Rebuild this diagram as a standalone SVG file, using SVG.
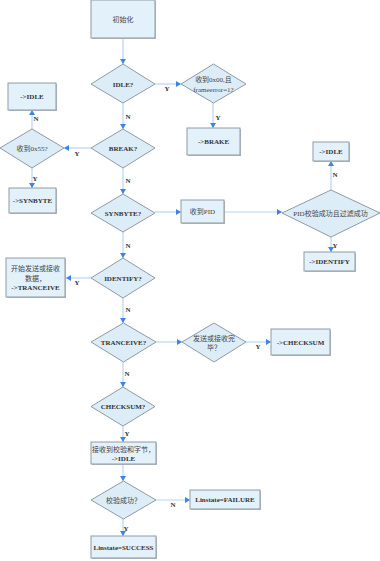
<svg xmlns="http://www.w3.org/2000/svg" width="380" height="561" viewBox="0 0 380 561">
<style>
.bx{fill:#e3f1fa;stroke:#8f9ba3;stroke-width:1}
.sh{fill:#b8bec2}
.dm{fill:#dcedf8;stroke:#8f9ba3;stroke-width:1}
.t{font-family:"Liberation Serif","Noto Sans CJK SC",serif;font-size:7px;font-weight:bold;fill:#333;text-anchor:middle}
.tc{font-family:"Liberation Serif","Noto Sans CJK SC",serif;font-size:7px;fill:#444;text-anchor:middle}
.lb{font-family:"Liberation Serif",serif;font-size:7px;font-weight:bold;fill:#333;text-anchor:middle}
.cn{fill:none;stroke:#b9d4ef;stroke-width:1.2;marker-end:url(#ah)}
</style>
<defs>
<marker id="ah" markerUnits="userSpaceOnUse" markerWidth="6" markerHeight="6" refX="5" refY="3" orient="auto">
<path d="M0,0 L5,3 L0,6 Z" fill="#3c84e6"/>
</marker>
</defs>
<rect width="380" height="561" fill="#ffffff"/>

<g id="connectors">
<path class="cn" d="M123,38 L123,64"/>
<path class="cn" d="M155,84 L181,84"/>
<path class="cn" d="M213,103 L213,128"/>
<path class="cn" d="M123,103 L123,129"/>
<path class="cn" d="M91,148 L64,148"/>
<path class="cn" d="M32,129 L32,110"/>
<path class="cn" d="M32,168 L32,188"/>
<path class="cn" d="M123,168 L123,194"/>
<path class="cn" d="M155,212 L181,212"/>
<path class="cn" d="M225,212 L282,212"/>
<path class="cn" d="M331,190 L331,161"/>
<path class="cn" d="M331,237 L331,252"/>
<path class="cn" d="M123,232 L123,258"/>
<path class="cn" d="M91,278 L66,278"/>
<path class="cn" d="M123,298 L123,323"/>
<path class="cn" d="M156,342 L182,342"/>
<path class="cn" d="M246,342 L271,342"/>
<path class="cn" d="M123,362 L123,387"/>
<path class="cn" d="M123,426 L123,442"/>
<path class="cn" d="M123,464 L123,481"/>
<path class="cn" d="M156,500 L190,500"/>
<path class="cn" d="M123,519 L123,536"/>
<text class="lb" x="167" y="91">Y</text>
<text class="lb" x="218" y="119.5">Y</text>
<text class="lb" x="128" y="119">N</text>
<text class="lb" x="77" y="155.5">Y</text>
<text class="lb" x="36" y="121">N</text>
<text class="lb" x="35" y="180.5">Y</text>
<text class="lb" x="128" y="183">N</text>
<text class="lb" x="335" y="177">N</text>
<text class="lb" x="335" y="247.5">Y</text>
<text class="lb" x="128" y="247.5">N</text>
<text class="lb" x="77" y="284.5">Y</text>
<text class="lb" x="128" y="311.5">N</text>
<text class="lb" x="258" y="348.5">Y</text>
<text class="lb" x="127" y="376">N</text>
<text class="lb" x="127" y="436">Y</text>
<text class="lb" x="173" y="507">N</text>
<text class="lb" x="126" y="531">Y</text>
</g>

<g id="init">
<rect class="sh" x="92" y="1" width="64" height="38"/>
<rect class="bx" x="91" y="0" width="64" height="38"/>
<text class="tc" x="123" y="21.5">初始化</text>
</g>

<g id="idle-q">
<path class="dm" d="M123,64 L155,84 L123,103 L91,84 Z"/>
<text class="t" x="123" y="86.5">IDLE?</text>
</g>

<g id="rx00-q">
<path class="dm" d="M213.5,64 L246,84 L213.5,103 L181,84 Z"/>
<text class="tc" x="213.5" y="82">收到0x00,且</text>
<text class="tc" x="213.5" y="91.5">frameerror=1?</text>
</g>

<g id="brake">
<rect class="sh" x="188" y="129" width="53" height="27"/>
<rect class="bx" x="187" y="128" width="53" height="27"/>
<text class="t" x="213.5" y="144">-&gt;BRAKE</text>
</g>

<g id="idle-left">
<rect class="sh" x="9" y="84" width="48" height="27"/>
<rect class="bx" x="8" y="83" width="48" height="27"/>
<text class="t" x="32" y="98.5">-&gt;IDLE</text>
</g>

<g id="rx55-q">
<path class="dm" d="M32,129 L64,148 L32,168 L0,148 Z"/>
<text class="tc" x="32" y="150.5">收到0x55?</text>
</g>

<g id="synbyte-left">
<rect class="sh" x="10" y="189" width="47" height="25"/>
<rect class="bx" x="9" y="188" width="47" height="25"/>
<text class="t" x="32.5" y="203">-&gt;SYNBYTE</text>
</g>

<g id="break-q">
<path class="dm" d="M123,129 L155,148 L123,168 L91,148 Z"/>
<text class="t" x="123" y="150.5">BREAK?</text>
</g>

<g id="synbyte-q">
<path class="dm" d="M123,194 L155,213 L123,232 L91,213 Z"/>
<text class="t" x="123" y="215.5">SYNBYTE?</text>
</g>

<g id="rxpid">
<rect class="sh" x="182" y="201" width="43" height="23"/>
<rect class="bx" x="181" y="200" width="43" height="23"/>
<text class="tc" x="202.5" y="214">收到PID</text>
</g>

<g id="pid-q">
<path class="dm" d="M331,190 L380,213 L331,237 L282,213 Z"/>
<text class="tc" x="330.5" y="215.5">PID校验成功且过滤成功</text>
</g>

<g id="idle-right">
<rect class="sh" x="314" y="143" width="36" height="19"/>
<rect class="bx" x="313" y="142" width="36" height="19"/>
<text class="t" x="331" y="154">-&gt;IDLE</text>
</g>

<g id="identify-right">
<rect class="sh" x="305" y="253" width="51" height="19"/>
<rect class="bx" x="304" y="252" width="51" height="19"/>
<text class="t" x="329.5" y="264">-&gt;IDENTIFY</text>
</g>

<g id="identify-q">
<path class="dm" d="M123,258 L155,278 L123,298 L91,278 Z"/>
<text class="t" x="123" y="280.5">IDENTIFY?</text>
</g>

<g id="start-tx">
<rect class="sh" x="7" y="259" width="59" height="39"/>
<rect class="bx" x="6" y="258" width="59" height="39"/>
<text class="tc" x="35.5" y="270.5">开始发送或接收</text>
<text class="tc" x="35.5" y="280.5">数据，</text>
<text class="t" x="35.5" y="290">-&gt;TRANCEIVE</text>
</g>

<g id="tranceive-q">
<path class="dm" d="M123.5,323 L156,342 L123.5,362 L91,342 Z"/>
<text class="t" x="123.5" y="344.5">TRANCEIVE?</text>
</g>

<g id="txdone-q">
<path class="dm" d="M214,323 L246,342 L214,362 L182,342 Z"/>
<text class="tc" x="214" y="340.5">发送或接收完</text>
<text class="tc" x="214" y="350">毕？</text>
</g>

<g id="checksum-right">
<rect class="sh" x="272" y="330" width="59" height="26"/>
<rect class="bx" x="271" y="329" width="59" height="26"/>
<text class="t" x="300.5" y="344.5">-&gt;CHECKSUM</text>
</g>

<g id="checksum-q">
<path class="dm" d="M123,387 L155,406.5 L123,426 L91,406.5 Z"/>
<text class="t" x="123" y="409">CHECKSUM?</text>
</g>

<g id="rx-checksum">
<rect class="sh" x="92" y="443" width="65" height="22"/>
<rect class="bx" x="91" y="442" width="65" height="22"/>
<text class="tc" x="123.5" y="451.5">接收到校验和字节，</text>
<text class="t" x="123.5" y="461">-&gt;IDLE</text>
</g>

<g id="verify-q">
<path class="dm" d="M123.5,481 L156,500 L123.5,519 L91,500 Z"/>
<text class="tc" x="123.5" y="502.5">校验成功？</text>
</g>

<g id="failure">
<rect class="sh" x="191" y="491" width="70" height="19"/>
<rect class="bx" x="190" y="490" width="70" height="19"/>
<text class="t" x="225" y="502">Linstate=FAILURE</text>
</g>

<g id="success">
<rect class="sh" x="92" y="537" width="65" height="22"/>
<rect class="bx" x="91" y="536" width="65" height="22"/>
<text class="t" x="123.5" y="549.5">Linstate=SUCCESS</text>
</g>
</svg>
